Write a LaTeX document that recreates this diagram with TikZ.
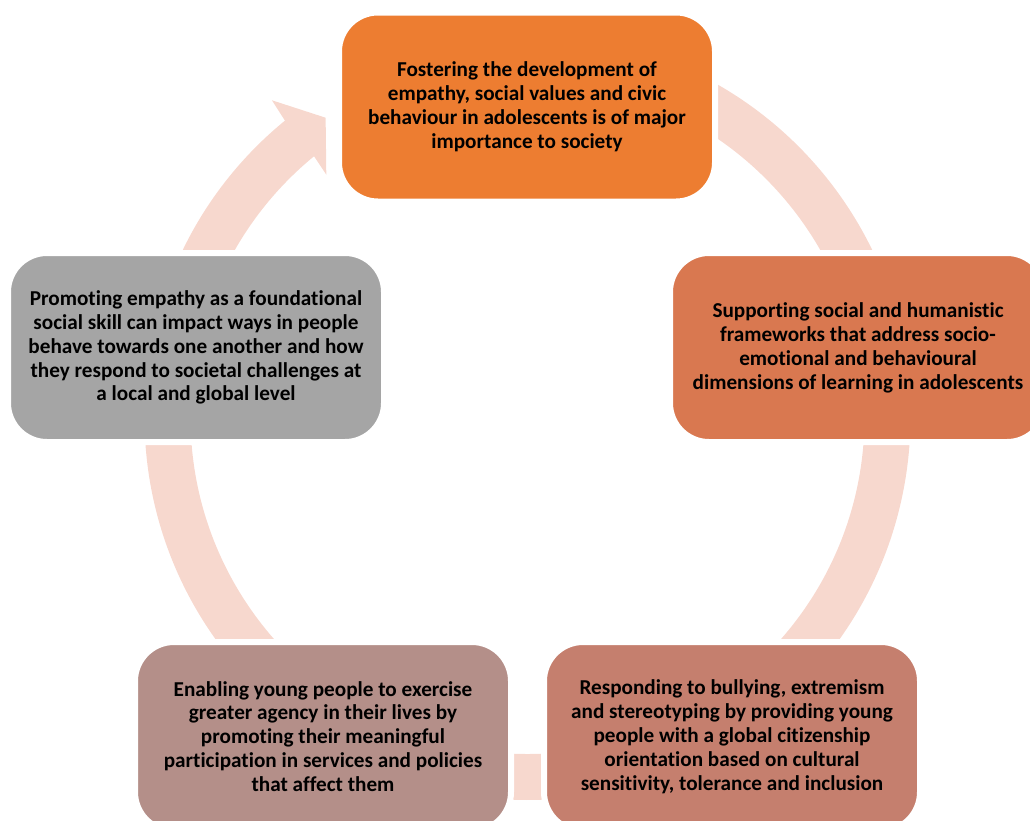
\documentclass[tikz,border=0pt]{standalone}
\usepackage{fontspec}
\setmainfont[Ligatures=NoCommon]{Carlito}
\usepackage{tikz}
\usetikzlibrary{calc}
\definecolor{ring}{RGB}{247,216,206}
\definecolor{cfos}{RGB}{237,125,49}
\definecolor{csup}{RGB}{217,120,80}
\definecolor{cres}{RGB}{197,127,110}
\definecolor{cena}{RGB}{180,143,137}
\definecolor{cpro}{RGB}{165,165,165}

\begin{document}
\begin{tikzpicture}[x=1pt,y=-1pt,
    stage/.style={draw=white,line width=6pt,rounded corners=39pt,minimum width=376pt,minimum height=189pt,
      align=center,font=\bfseries\fontsize{21.2}{23.9}\selectfont,text=black}]
      \useasboundingbox (0,0) rectangle (1030,820);
      \clip (0,0) rectangle (1030,820);
      \coordinate (c) at (527.5,417);
      % ring with the arrow head
      \fill[ring] ($(c)+(230.7:383)$) arc[start angle=230.7,end angle=-90,radius=383]
        -- ($(c)+(-90:337)$) arc[start angle=-90,end angle=230.7,radius=337]
        -- ($(c)+(230.3:315)$) -- ($(c)+(236:361)$) -- ($(c)+(231.1:407)$) -- cycle;
      % stages
      \node[stage,fill=cfos] (fos) at (527,107) {Fostering the development of\\empathy, social values and civic\\behaviour in adolescents is of major\\importance to society};
      \node[stage,fill=csup] (sup) at (858,347.5) {Supporting social and humanistic\\frameworks that address socio-\\emotional and behavioural\\dimensions of learning in adolescents};
      \node[stage,fill=cres] (res) at (732,736.5) {Responding to bullying, extremism\\and stereotyping by providing young\\people with a global citizenship\\orientation based on cultural\\sensitivity, tolerance and inclusion};
      \node[stage,fill=cena] (ena) at (323,736.5) {Enabling young people to exercise\\greater agency in their lives by\\promoting their meaningful\\participation in services and policies\\that affect them};
      \node[stage,fill=cpro] (pro) at (196,347.5) {Promoting empathy as a foundational\\social skill can impact ways in people\\behave towards one another and how\\they respond to societal challenges at\\a local and global level};
    \end{tikzpicture}
\end{document}
